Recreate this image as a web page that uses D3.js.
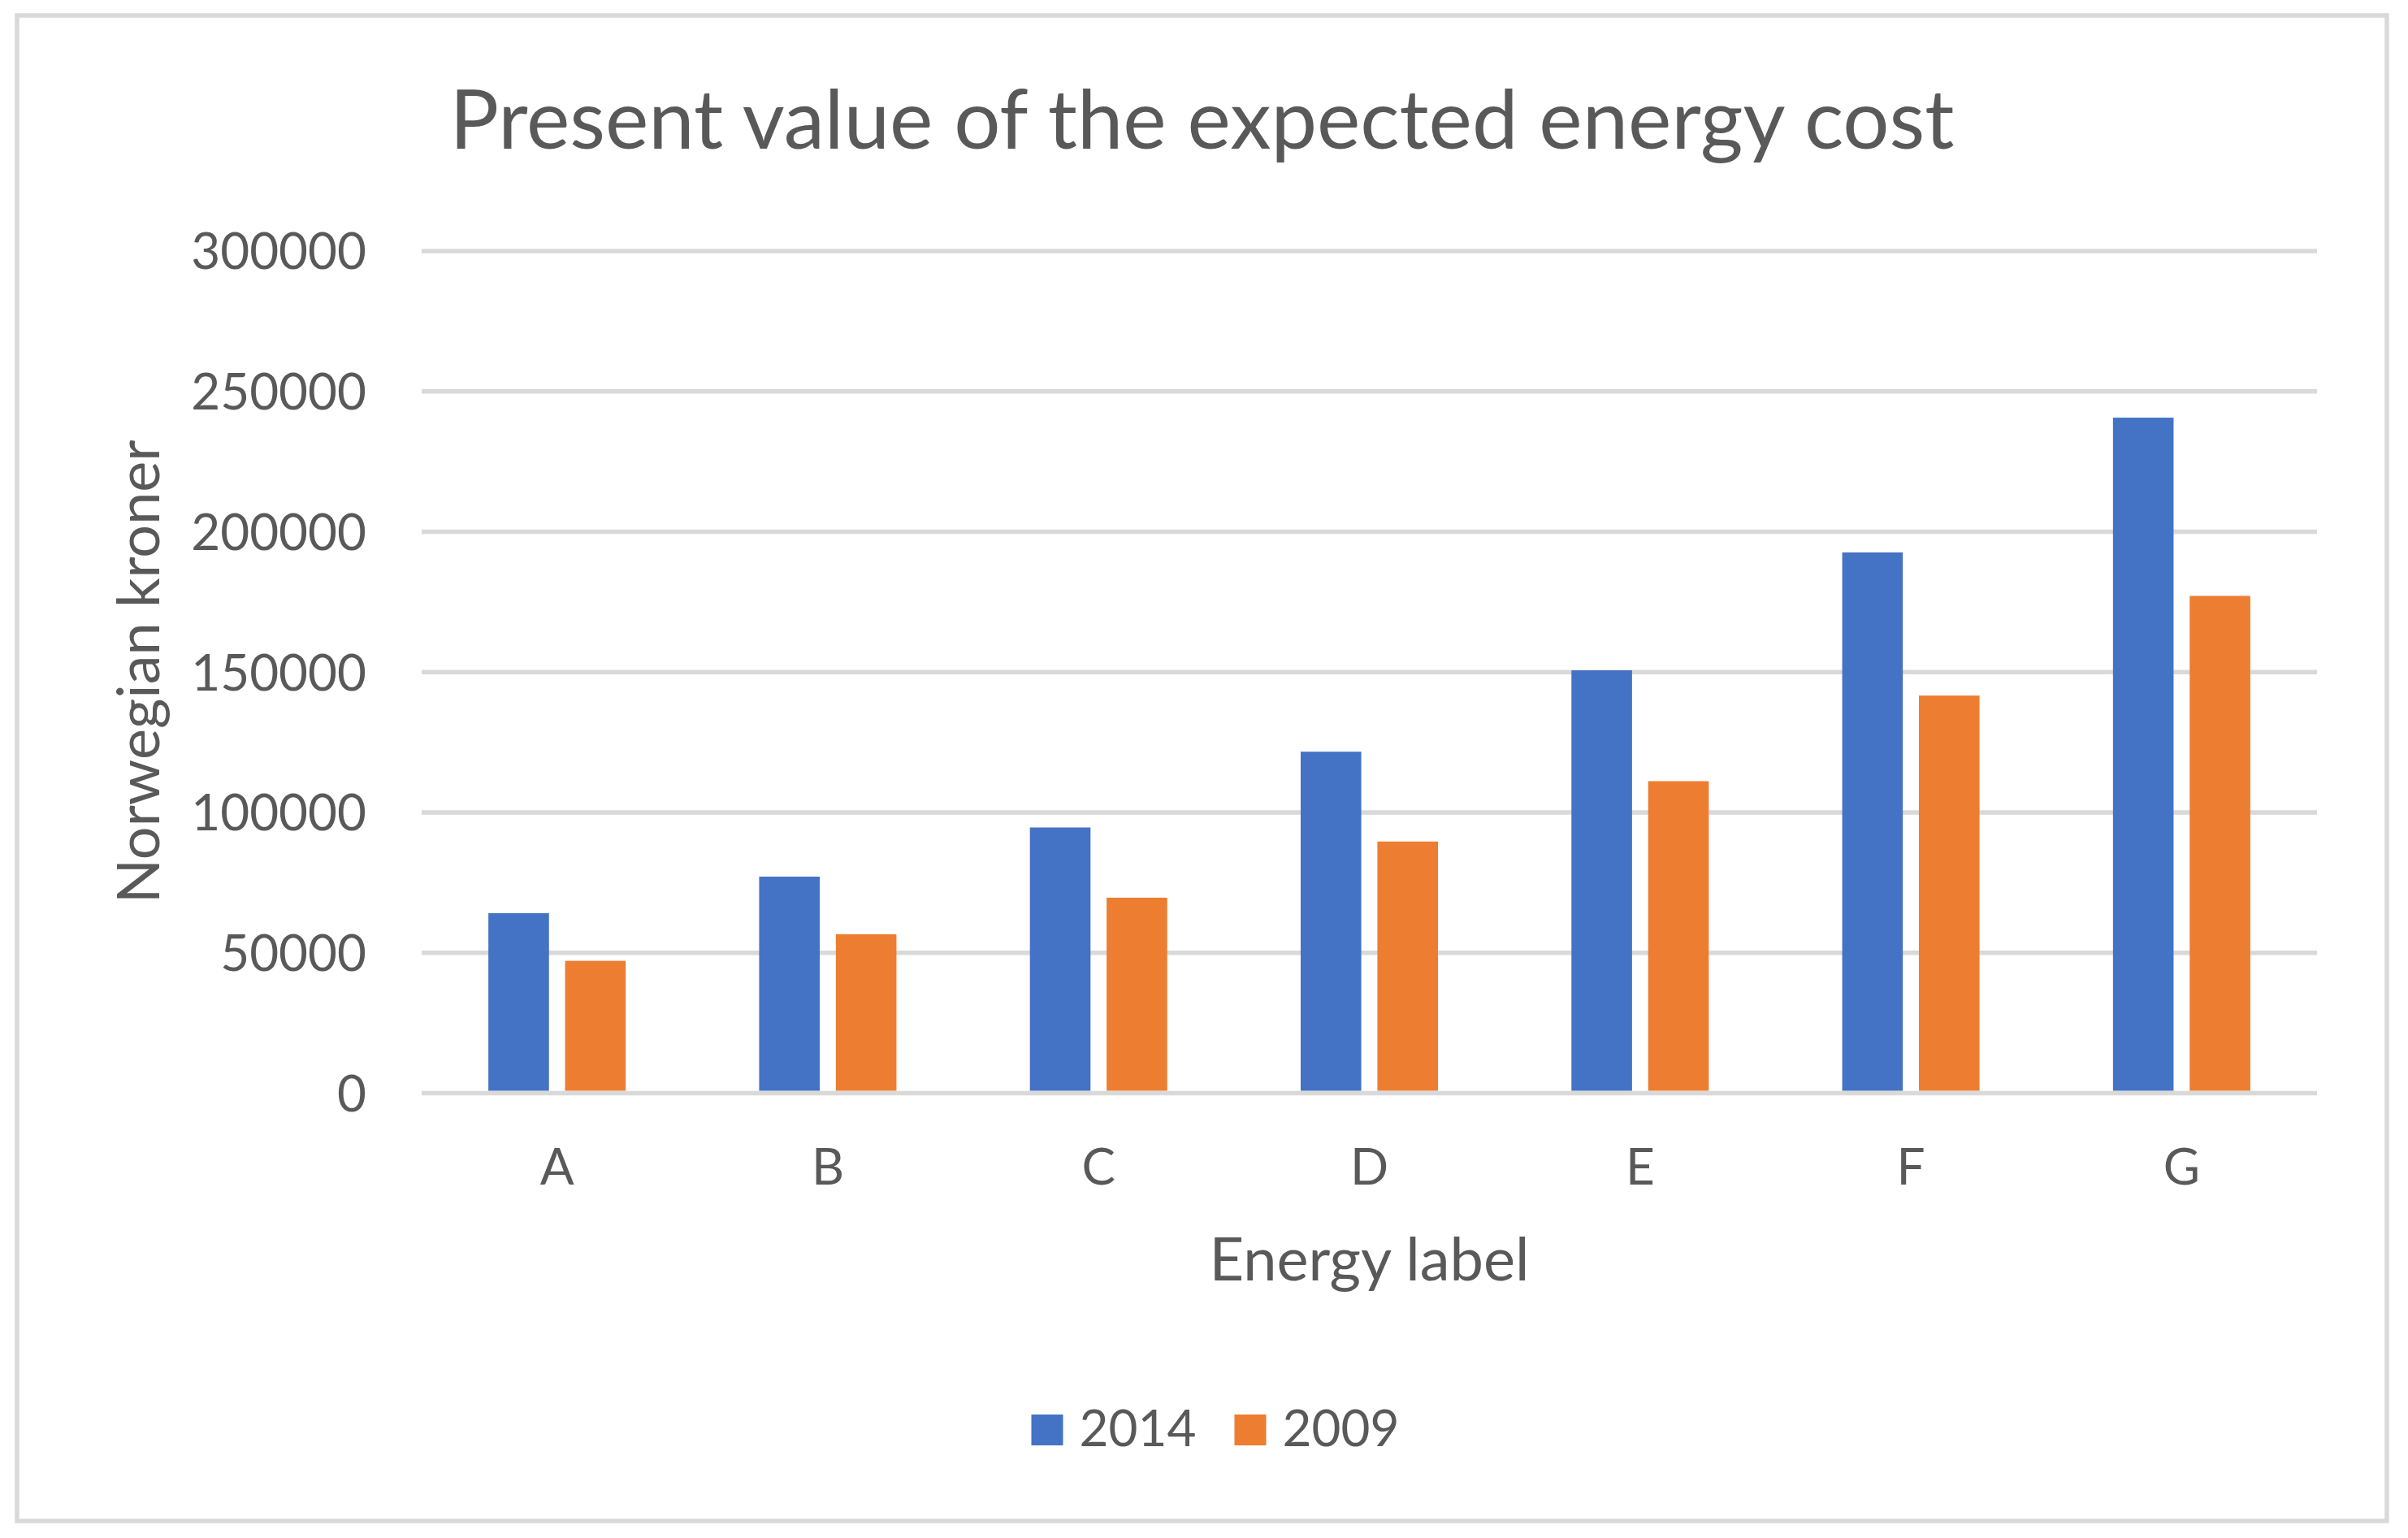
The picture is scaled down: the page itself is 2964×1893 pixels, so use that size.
<!DOCTYPE html>
<html>
<head>
<meta charset="utf-8">
<script src="https://cdn.jsdelivr.net/npm/d3@7"></script>
<style>
  html, body { margin: 0; padding: 0; background: #fff; }
  svg { display: block; }
  text { font-family: Lato, "Open Sans", sans-serif; fill: #595959; }
</style>
</head>
<body>
<svg id="chart" width="2964" height="1893"></svg>
<script>
const categories = ["A", "B", "C", "D", "E", "F", "G"];
const seriesNames = ["2014", "2009"];
const values2014 = [64000, 77000, 94500, 121500, 150500, 192500, 240500];
const values2009 = [47000, 56500, 69500, 89500, 111000, 141500, 177000];
const yTicks = [0, 50000, 100000, 150000, 200000, 250000, 300000];
const colors = ["#4472C4", "#ED7D31"];
const titleText = "Present value of the expected energy cost";
const xTitle = "Energy label";
const yTitle = "Norwegian kroner";

const seriesValues = [values2014, values2009];
const data = categories.map((c, i) => ({
  cat: c,
  vals: seriesNames.map((s, j) => ({ key: s, value: seriesValues[j][i] }))
}));

const svg = d3.select("#chart");
const plot = { left: 519, right: 2852, top: 308.5, bottom: 1345 };

// outer chart border
svg.append("rect")
  .attr("x", 21).attr("y", 19)
  .attr("width", 2938 - 21).attr("height", 1872 - 19)
  .attr("fill", "#fff")
  .attr("stroke", "#D9D9D9")
  .attr("stroke-width", 5.5);

const x0 = d3.scaleBand().domain(categories).range([plot.left, plot.right]).paddingInner(0).paddingOuter(0);
const x1 = d3.scaleBand().domain(seriesNames).range([0, x0.bandwidth()]).paddingInner(0.21).paddingOuter(0.87);
const y = d3.scaleLinear().domain([0, 300000]).range([plot.bottom, plot.top]);
const color = d3.scaleOrdinal().domain(seriesNames).range(colors);

// y axis with gridlines
const yAxis = d3.axisLeft(y)
  .tickValues(yTicks)
  .tickSize(-(plot.right - plot.left))
  .tickPadding(68)
  .tickFormat(d3.format("d"));
const gy = svg.append("g")
  .attr("transform", `translate(${plot.left},0)`)
  .call(yAxis);
gy.select(".domain").remove();
gy.selectAll(".tick line")
  .attr("stroke", "#D9D9D9")
  .attr("stroke-width", 5.5);
gy.selectAll(".tick text")
  .attr("fill", "#595959")
  .style("font-family", "Lato, 'Open Sans', sans-serif")
  .style("font-size", "62px")
  .attr("dy", "0.36em");

// bars
const groups = svg.append("g").selectAll("g")
  .data(data).join("g")
  .attr("transform", d => `translate(${x0(d.cat)},0)`);
groups.selectAll("rect")
  .data(d => d.vals).join("rect")
  .attr("x", d => x1(d.key))
  .attr("width", x1.bandwidth())
  .attr("y", d => y(d.value))
  .attr("height", d => y(0) - y(d.value) - 2.5)
  .attr("fill", d => color(d.key));

// x axis labels
const xAxis = d3.axisBottom(x0).tickSize(0).tickPadding(0);
const gx = svg.append("g")
  .attr("transform", `translate(0,${plot.bottom})`)
  .call(xAxis);
gx.select(".domain").remove();
gx.selectAll(".tick text")
  .attr("fill", "#595959")
  .style("font-family", "Lato, 'Open Sans', sans-serif")
  .style("font-size", "62px")
  .attr("y", 113)
  .attr("dy", 0);

// title
svg.append("text")
  .attr("x", 1479.5).attr("y", 183)
  .attr("text-anchor", "middle")
  .style("font-size", "101px")
  .text(titleText);

// x title
svg.append("text")
  .attr("x", (plot.left + plot.right) / 2).attr("y", 1576)
  .attr("text-anchor", "middle")
  .style("font-size", "74px")
  .text(xTitle);

// y title
svg.append("text")
  .attr("transform", `translate(196,${(plot.top + plot.bottom) / 2}) rotate(-90)`)
  .attr("text-anchor", "middle")
  .style("font-size", "72px")
  .text(yTitle);

// legend
const legendX = [1269.5, 1519.5];
const leg = svg.append("g").selectAll("g")
  .data(seriesNames).join("g")
  .attr("transform", (d, i) => `translate(${legendX[i]},1741)`);
leg.append("rect")
  .attr("width", 39).attr("height", 38)
  .attr("fill", d => color(d));
leg.append("text")
  .attr("x", 59).attr("y", 38.5)
  .style("font-size", "62px")
  .text(d => d);
</script>
</body>
</html>
